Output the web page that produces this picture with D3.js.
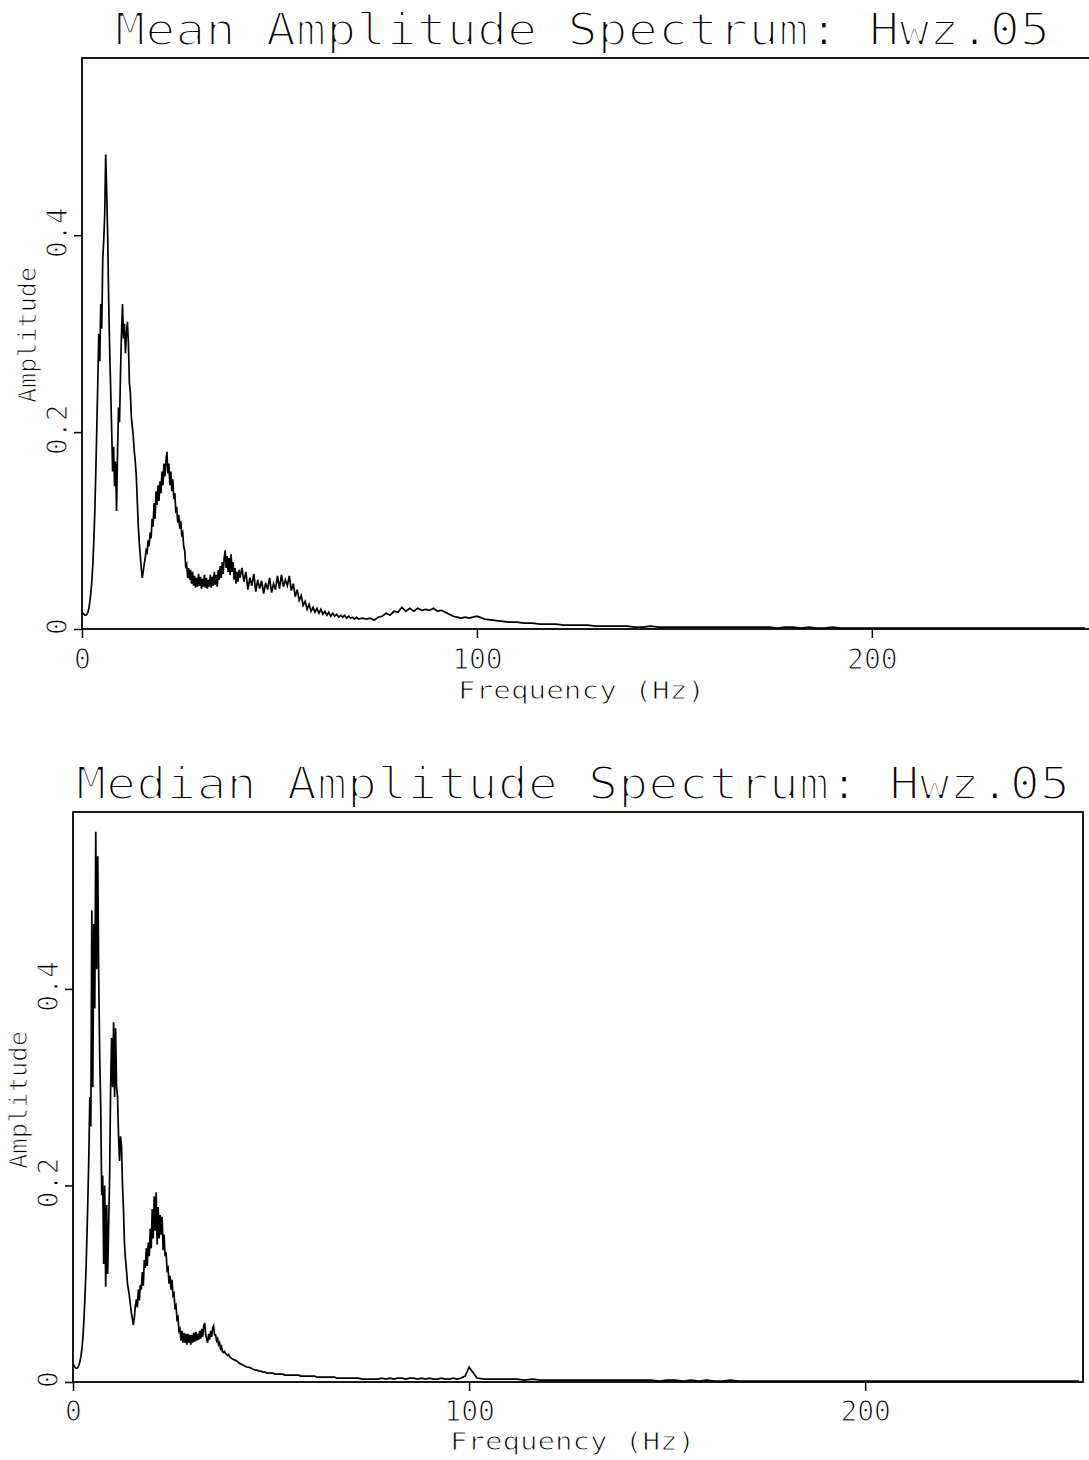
<!DOCTYPE html>
<html><head><meta charset="utf-8">
<script src="https://cdn.jsdelivr.net/npm/d3@7"></script>
<style>
html,body{margin:0;padding:0;background:#fff;}
svg{display:block;}
text{font-family:"DejaVu Sans Mono","Liberation Mono",monospace;fill:#000;}
</style></head>
<body>
<svg id="chart" width="1089" height="1460"></svg>
<script>
// ---------------- DATA ----------------
const titles = ["Mean Amplitude Spectrum: Hwz.05", "Median Amplitude Spectrum: Hwz.05"];
const xLabel = "Frequency (Hz)";
const yLabel = "Amplitude";
const xTicks = [0, 100, 200];
const yTicks = [0, 0.2, 0.4];
const yTickLabels = ["0", "0.2", "0.4"];
// frequency sampling segments [start, end, step] (Hz)
const freqSegments = [[0, 40, 0.25], [40.5, 70, 0.5], [71, 100, 1], [102, 254, 2]];

// Mean amplitude spectrum
const meanAmp0to40 = [
 .017,.016,.015,.014,.014,.015,.017,.021,
 .028,.037,.049,.066,.090,.120,.160,.205,
 .250,.300,.272,.330,.305,.375,.395,.420,
 .482,.445,.400,.335,.285,.245,.205,.160,
 .185,.145,.170,.120,.180,.225,.210,.260,
 .300,.330,.295,.310,.280,.300,.312,.290,
 .250,.240,.215,.205,.195,.180,.170,.155,
 .130,.105,.088,.075,.062,.052,.058,.066,
 .072,.080,.078,.090,.084,.098,.092,.112,
 .104,.128,.112,.140,.126,.146,.130,.150,
 .138,.160,.146,.168,.155,.170,.180,.158,
 .168,.146,.160,.140,.152,.132,.138,.120,
 .122,.108,.116,.102,.110,.096,.098,.084,
 .080,.064,.066,.052,.062,.050,.060,.046,
 .058,.044,.054,.042,.052,.043,.056,.044,
 .053,.041,.051,.043,.055,.042,.052,.041,
 .050,.043,.055,.042,.053,.044,.058,.045,
 .055,.043,.060,.050,.064,.052,.068,.056,
 .072,.080,.062,.074,.058,.072,.055,.076,
 .058,.068,.050,.062,.046,.058,.048,.060,
 .052];
const meanAmp40to70 = [
 .062,.048,.058,.040,.052,.044,.056,.038,.050,.041,
 .049,.036,.047,.040,.052,.037,.046,.040,.054,.041,
 .055,.043,.050,.044,.054,.039,.046,.033,.040,.029,
 .034,.024,.028,.020,.025,.018,.022,.017,.021,.016,
 .020,.015,.018,.014,.017,.013,.016,.013,.015,.012,
 .014,.012,.014,.011,.013,.011,.012,.010,.012,.010];
const meanAmp71to100 = [
 .011,.010,.011,.009,.012,.013,.016,.014,.018,.017,
 .022,.018,.021,.018,.021,.019,.020,.019,.021,.018,
 .019,.017,.015,.013,.012,.011,.012,.011,.012,.013];
const meanAmp102to254 = [
 .010,.009,.008,.007,.007,.006,.006,.005,.005,.005,.004,.004,.004,.004,.003,.003,.003,.003,.003,.002,
 .002,.003,.002,.002,.002,.002,.002,.002,.002,.002,.002,.002,.002,.002,.002,.002,.002,.001,.002,.002,
 .001,.002,.001,.001,.002,.001,.001,.001,.001,.001,.001,.001,.001,.001,.001,.001,.001,.001,.001,.001,
 .001,.001,.001,.001,.001,.001,.001,.001,.001,.001,.001,.001,.001,.001,.001,.001,.001];

// Median amplitude spectrum
const medianAmp0to40 = [
 .019,.017,.015,.014,.014,.015,.017,.021,
 .026,.034,.045,.062,.085,.110,.145,.185,
 .230,.290,.260,.480,.300,.466,.380,.560,
 .420,.535,.410,.330,.280,.190,.210,.120,
 .200,.097,.180,.110,.160,.210,.300,.350,
 .300,.366,.290,.360,.300,.290,.250,.225,
 .250,.240,.200,.175,.140,.125,.114,.100,
 .094,.087,.078,.070,.064,.058,.066,.078,
 .084,.076,.094,.083,.099,.094,.112,.098,
 .124,.116,.136,.118,.142,.128,.156,.136,
 .176,.146,.189,.154,.193,.140,.178,.146,
 .170,.150,.168,.134,.150,.128,.132,.114,
 .116,.100,.108,.094,.104,.088,.090,.076,
 .078,.064,.066,.052,.054,.042,.052,.040,
 .050,.040,.049,.038,.049,.040,.048,.038,
 .048,.040,.050,.041,.051,.042,.049,.043,
 .052,.044,.054,.046,.057,.060,.048,.044,
 .040,.049,.043,.052,.046,.055,.057,.048,
 .048,.042,.044,.038,.040,.034,.036,.031,
 .030,.031,.029,.028,.027,.028,.026,.025,
 .024];
const medianAmp40to70 = [
 .023,.022,.021,.019,.018,.017,.016,.015,.015,.014,
 .013,.012,.012,.011,.011,.010,.010,.009,.009,.009,
 .009,.008,.008,.008,.008,.008,.007,.007,.007,.007,
 .007,.007,.007,.007,.006,.006,.006,.006,.006,.006,
 .006,.006,.005,.005,.005,.005,.005,.005,.005,.005,
 .005,.005,.004,.004,.004,.004,.004,.004,.004,.004];
const medianAmp71to100 = [
 .004,.004,.003,.003,.003,.003,.003,.004,.003,.004,
 .003,.004,.004,.003,.004,.004,.003,.004,.003,.004,
 .003,.003,.004,.003,.003,.004,.003,.004,.006,.015];
const medianAmp102to254 = [
 .004,.003,.003,.003,.003,.003,.002,.003,.002,.002,.002,.002,.002,.002,.002,.002,.002,.002,.002,.002,
 .002,.002,.002,.001,.002,.002,.001,.002,.001,.002,.001,.001,.002,.001,.001,.001,.001,.001,.001,.001,
 .001,.001,.001,.001,.001,.001,.001,.001,.001,.001,.001,.001,.001,.001,.001,.001,.001,.001,.001,.001,
 .001,.001,.001,.001,.001,.001,.001,.001,.001,.001,.001,.001,.001,.001,.001,.001,.001];

// ---------------- BUILD ----------------
function buildFreqs(segs){
  const out = [];
  segs.forEach(([a,b,s]) => { for (let f = a; f <= b + 1e-9; f += s) out.push(+f.toFixed(2)); });
  return out;
}
const freqs = buildFreqs(freqSegments);
function zipSeries(amps){
  if (amps.length !== freqs.length) console.warn("length mismatch", amps.length, freqs.length);
  return amps.map((a,i) => ({f: freqs[i], a}));
}
const meanSeries = zipSeries(meanAmp0to40.concat(meanAmp40to70, meanAmp71to100, meanAmp102to254));
const medianSeries = zipSeries(medianAmp0to40.concat(medianAmp40to70, medianAmp71to100, medianAmp102to254));

const svg = d3.select("#chart");

const panels = [
  {title: titles[0], data: meanSeries, left: 82, right: 1093, fmax: 256, top: 58, bottom: 629,
   titleX: 115, titleBase: 45, titleLen: 935,
   tickBase: 669, xlabX: 458, xlabBase: 699, xlabLen: 247,
   ytickX: 67, ylabX: 36, ylabY: 335, ylabLen: 136},
  {title: titles[1], data: medianSeries, left: 73, right: 1083, fmax: 255, top: 812, bottom: 1382,
   titleX: 76, titleBase: 799, titleLen: 994,
   tickBase: 1421, xlabX: 450, xlabBase: 1450, xlabLen: 245,
   ytickX: 58, ylabX: 27, ylabY: 1100, ylabLen: 138}
];

panels.forEach(p => {
  const x = d3.scaleLinear().domain([0, p.fmax]).range([p.left, p.right]);
  const y = d3.scaleLinear().domain([0, 0.58]).range([p.bottom, p.top]);
  const g = svg.append("g");

  // title
  g.append("text").attr("x", p.titleX).attr("y", p.titleBase)
    .attr("font-size", 44).attr("textLength", p.titleLen).attr("lengthAdjust", "spacingAndGlyphs")
    .attr("stroke", "#fff").attr("stroke-width", 2.2)
    .text(p.title);

  // frame
  g.append("rect").attr("x", x(0)).attr("y", y(0.58))
    .attr("width", x(p.fmax) - x(0)).attr("height", y(0) - y(0.58))
    .attr("fill", "none").attr("stroke", "#000").attr("stroke-width", 1.8);

  // clip
  const cid = "clip" + p.left;
  g.append("clipPath").attr("id", cid).append("rect")
    .attr("x", x(0)).attr("y", y(0.58)).attr("width", x(p.fmax) - x(0)).attr("height", y(0) - y(0.58));

  // x axis ticks
  const xa = d3.axisBottom(x).tickValues(xTicks).tickSize(9).tickFormat(d3.format("d"));
  const xg = g.append("g").attr("transform", `translate(0,${p.bottom})`).call(xa);
  xg.select(".domain").remove();
  xg.selectAll(".tick line").attr("stroke", "#000").attr("stroke-width", 1.5);
  xg.selectAll(".tick text").attr("font-size", 28).attr("y", p.tickBase - p.bottom).attr("dy", null)
    .attr("font-family", '"DejaVu Sans Mono",monospace').attr("fill", "#000")
    .attr("stroke", "#fff").attr("stroke-width", 1.1);

  // y axis ticks
  const ya = d3.axisLeft(y).tickValues(yTicks).tickSize(8).tickFormat((d,i) => yTickLabels[i]);
  const yg = g.append("g").attr("transform", `translate(${p.left},0)`).call(ya);
  yg.select(".domain").remove();
  yg.selectAll(".tick line").attr("stroke", "#000").attr("stroke-width", 1.5);
  yg.selectAll(".tick text").attr("font-size", 28).attr("x", null).attr("dy", null)
    .attr("text-anchor", "middle")
    .attr("transform", `translate(${p.ytickX - p.left},-3) rotate(-90)`)
    .attr("font-family", '"DejaVu Sans Mono",monospace').attr("fill", "#000")
    .attr("stroke", "#fff").attr("stroke-width", 1.1);

  // axis titles
  g.append("text").attr("x", p.xlabX).attr("y", p.xlabBase)
    .attr("font-size", 25).attr("textLength", p.xlabLen).attr("lengthAdjust", "spacingAndGlyphs")
    .attr("stroke", "#fff").attr("stroke-width", 0.9)
    .text(xLabel);
  g.append("text").attr("transform", `translate(${p.ylabX},${p.ylabY}) rotate(-90)`)
    .attr("text-anchor", "middle")
    .attr("font-size", 24).attr("textLength", p.ylabLen).attr("lengthAdjust", "spacingAndGlyphs")
    .attr("stroke", "#fff").attr("stroke-width", 0.9)
    .text(yLabel);

  // spectrum line
  const line = d3.line().x(d => x(d.f)).y(d => y(d.a));
  g.append("path").datum(p.data).attr("clip-path", `url(#${cid})`)
    .attr("d", line).attr("fill", "none").attr("stroke", "#000").attr("stroke-width", 1.7)
    .attr("stroke-linejoin", "miter");
});
</script>
</body></html>
